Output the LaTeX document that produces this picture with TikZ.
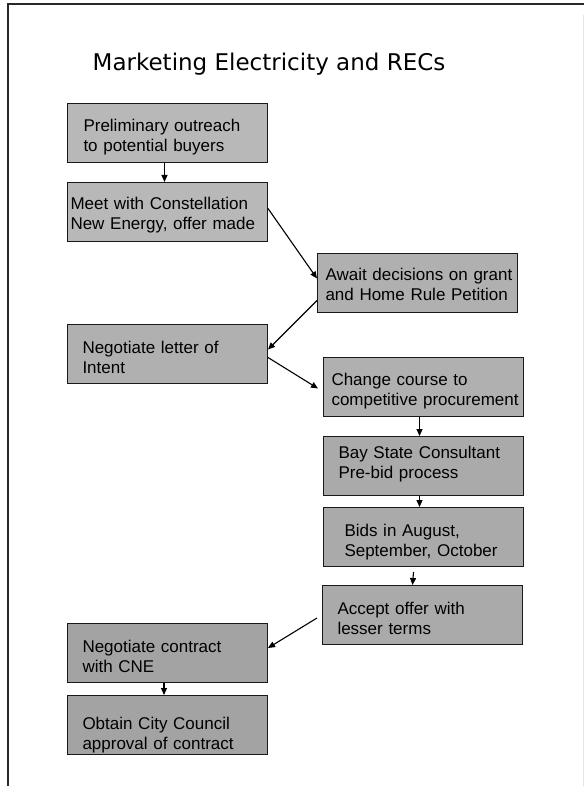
\documentclass[tikz,border=0pt]{standalone}
\usepackage{fontspec}
\setmainfont{Liberation Sans}
\newfontfamily\titlefont{DejaVu Sans}
\usetikzlibrary{arrows.meta}

\definecolor{boxlight}{RGB}{184,184,184}
\definecolor{boxgray}{RGB}{176,176,176}
\definecolor{boxmid}{RGB}{170,170,170}
\definecolor{boxdark}{RGB}{163,163,163}
\definecolor{framegray}{RGB}{40,40,40}

\newcommand\boxfont{\fontsize{17pt}{20pt}\selectfont}
\def\boxpad{15pt}
\def\boxtop{21pt}
\def\boxbot{4pt}

\tikzset{
  stepbox/.style={draw=black!90, line width=1pt, fill=boxgray,
    anchor=north west, minimum height=59pt, text width=200pt,
    inner xsep=0pt, inner ysep=0pt, align=left, font=\boxfont,
    execute at begin node={\leftskip=\boxpad\relax\rule{0pt}{\boxtop}},
    execute at end node={\rule[-\boxbot]{0pt}{0pt}}},
  padx/.code={\def\boxpad{#1}},
  tophgt/.code={\def\boxtop{#1}},
  botdep/.code={\def\boxbot{#1}},
  flow/.style={line width=1.1pt, -{Triangle[length=7pt,width=6pt]}},
}

\begin{document}
\begin{tikzpicture}[x=1pt,y=-1pt]
  \useasboundingbox (0,0) rectangle (584,786);
  \fill[white] (0,0) rectangle (584,786);

  % slide frame
  \draw[framegray, line width=1.6pt] (584,4) -- (8,4) -- (8,786);
  \draw[black!10, line width=0.8pt] (583,15) -- (583,786);

  % title
  \node[font=\titlefont\fontsize{23pt}{27pt}\selectfont, anchor=base, inner sep=0pt]
    (title) at (269,71) {Marketing Electricity and RECs};

  % process steps
  \node[stepbox, fill=boxlight, padx=16pt, tophgt=20.2pt] (b1) at (67,103)
    {Preliminary outreach\\to potential buyers};
  \node[stepbox, fill=boxlight, padx=3pt, tophgt=19.2pt] (b2) at (67,182)
    {Meet with Constellation\\New Energy, offer made};
  \node[stepbox, padx=8pt, tophgt=19.2pt] (b3) at (317,253)
    {Await decisions on grant\\and Home Rule Petition};
  \node[stepbox, padx=15pt, tophgt=23.2pt] (b4) at (67,324)
    {Negotiate letter of\\Intent};
  \node[stepbox, padx=8pt, tophgt=21.2pt] (b5) at (323,357)
    {Change course to\\competitive procurement};
  \node[stepbox, fill=boxmid, padx=15pt, tophgt=13pt, botdep=8.8pt] (b6) at (323,436)
    {Bay State Consultant\\Pre-bid process};
  \node[stepbox, fill=boxmid, padx=21pt, tophgt=22.2pt] (b7) at (323,507)
    {Bids in August,\\September, October};
  \node[stepbox, fill=boxmid, padx=15pt, tophgt=23.2pt] (b8) at (322,585)
    {Accept offer with\\lesser terms};
  \node[stepbox, fill=boxdark, padx=15pt, tophgt=22.2pt] (b9) at (67,623)
    {Negotiate contract\\with CNE};
  \node[stepbox, fill=boxdark, padx=15pt, tophgt=33.2pt] (b10) at (67,695)
    {Obtain City Council\\approval of contract};

  % connectors
  \draw[flow] ([xshift=-3pt]b1.south) -- ([xshift=-3pt]b2.north);
  \draw[flow] ([yshift=3.5pt]b2.east) -- ([yshift=4.5pt]b3.west);
  \draw[flow] ([yshift=-17.5pt]b3.west) -- ([yshift=4.5pt]b4.east);
  \draw[flow] ([yshift=-3.5pt]b4.east) -- ([xshift=-5pt,yshift=-1.5pt]b5.west);
  \draw[flow] ([xshift=-4pt]b5.south) -- ([xshift=-4pt]b6.north);
  \draw[flow] ([xshift=-4pt]b6.south) -- ([xshift=-4pt]b7.north);
  \draw[flow] ([xshift=-10pt,yshift=-5pt]b7.south) -- ([xshift=-10pt]b8.north);
  \draw[flow] ([xshift=-5pt,yshift=-3pt]b8.west) -- ([yshift=5pt]b9.east);
  \draw[flow] ([xshift=-3.5pt]b9.south) -- ([xshift=-3.5pt]b10.north);
\end{tikzpicture}
\end{document}
